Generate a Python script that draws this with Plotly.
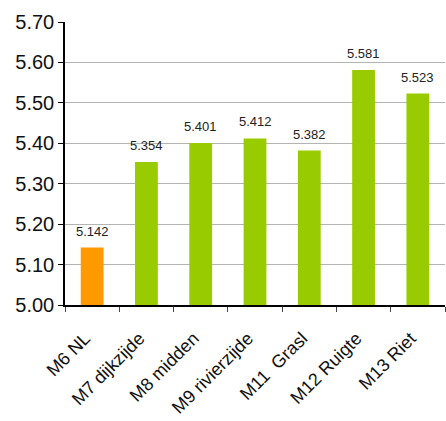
import plotly.graph_objects as go

categories = ["M6 NL", "M7 dijkzijde", "M8 midden", "M9 rivierzijde", "M11  Grasl", "M12 Ruigte", "M13 Riet"]
values = [5.142, 5.354, 5.401, 5.412, 5.382, 5.581, 5.523]
colors = ["#FF9900", "#99CC00", "#99CC00", "#99CC00", "#99CC00", "#99CC00", "#99CC00"]
y_ticks = [5.00, 5.10, 5.20, 5.30, 5.40, 5.50, 5.60, 5.70]

FONT = "Liberation Sans, Arial, sans-serif"

fig = go.Figure(go.Bar(
    x=categories,
    y=values,
    marker=dict(color=colors, line=dict(width=0)),
    width=0.42,
))

# value labels above each bar
for c, v in zip(categories, values):
    fig.add_annotation(
        x=c, y=v, text=f"{v:.3f}", showarrow=False,
        yanchor="bottom", yshift=7,
        font=dict(family=FONT, size=13, color="#222"),
    )

# trailing no-break spaces pull the slanted labels back from the tick
pad = "\u00a0" * 2

fig.update_layout(
    width=446, height=421,
    margin=dict(l=65, r=1, t=22, b=116),
    paper_bgcolor="white", plot_bgcolor="white",
    showlegend=False,
    font=dict(family=FONT, color="#111"),
    xaxis=dict(
        tickangle=-45, tickfont=dict(size=18),
        tickmode="array", tickvals=categories, ticktext=[c + pad for c in categories],
        showline=True, linecolor="black", linewidth=1.5,
        ticks="outside", ticklen=5, tickcolor="#444", tickson="boundaries",
        ticklabelstandoff=7, automargin=False, ticklabeloverflow="allow",
        showgrid=False,
    ),
    yaxis=dict(
        range=[5.0, 5.7], tickvals=y_ticks, ticktext=[f"{t:.2f}" for t in y_ticks],
        tickfont=dict(size=20), automargin=False,
        showline=True, linecolor="black", linewidth=1.5,
        ticks="outside", ticklen=5, tickcolor="black",
        showgrid=True, gridcolor="#B4B4B4", gridwidth=1,
        zeroline=False,
    ),
)

fig.write_html("out.html")
